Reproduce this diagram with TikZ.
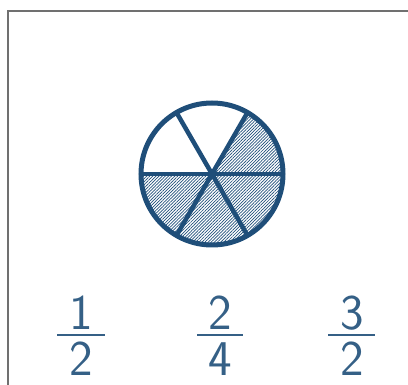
\documentclass[tikz,border=0pt]{standalone}
\usepackage{fontspec}
\usetikzlibrary{patterns.meta}
\definecolor{pieblue}{HTML}{1F4E79}
\definecolor{framegray}{HTML}{707070}
\tikzset{
  sector/.style={pattern={Lines[angle=45,distance=2.2pt,line width=0.7pt]},pattern color=pieblue},
  rim/.style={draw=pieblue,line width=5pt},
  spoke/.style={draw=pieblue,line width=4.5pt},
  digit/.style={text=pieblue!90!white,font=\sffamily\fontsize{50}{50}\selectfont,inner sep=0pt,anchor=base,text depth=0pt},
  fbar/.style={draw=pieblue!90!white,line width=1.4pt}
}
\begin{document}
\begin{tikzpicture}[x=1pt,y=-1pt]
\useasboundingbox (0,0) rectangle (408,385);
\clip (0,0) rectangle (408,385);
\draw[framegray,line width=2pt] (7.5,420) -- (7.5,11.5) -- (430,11.5);
\coordinate (c) at (212,174);
% shaded sectors (upper right, and the whole lower half)
\fill[sector] (c) -- ++(0:71) arc[start angle=0,end angle=-60,radius=71] -- cycle;
\fill[sector] (c) -- ++(180:71) arc[start angle=180,end angle=0,radius=71] -- cycle;
% spokes
\foreach \a in {0,60,120,180,240,300}{
  \draw[spoke] (c) -- ++(\a:71);
}
\draw[rim] (c) circle[radius=71];
% fractions
\node[digit] (n1) at (81,330) {1};
\node[digit] (d1) at (81,376) {2};
\draw[fbar] (57,335) -- (105,335);
\node[digit] (n2) at (220,330) {2};
\node[digit] (d2) at (220,376) {4};
\draw[fbar] (197,335) -- (243,335);
\node[digit] (n3) at (352,330) {3};
\node[digit] (d3) at (352,376) {2};
\draw[fbar] (328,335) -- (375,335);
\end{tikzpicture}
\end{document}
